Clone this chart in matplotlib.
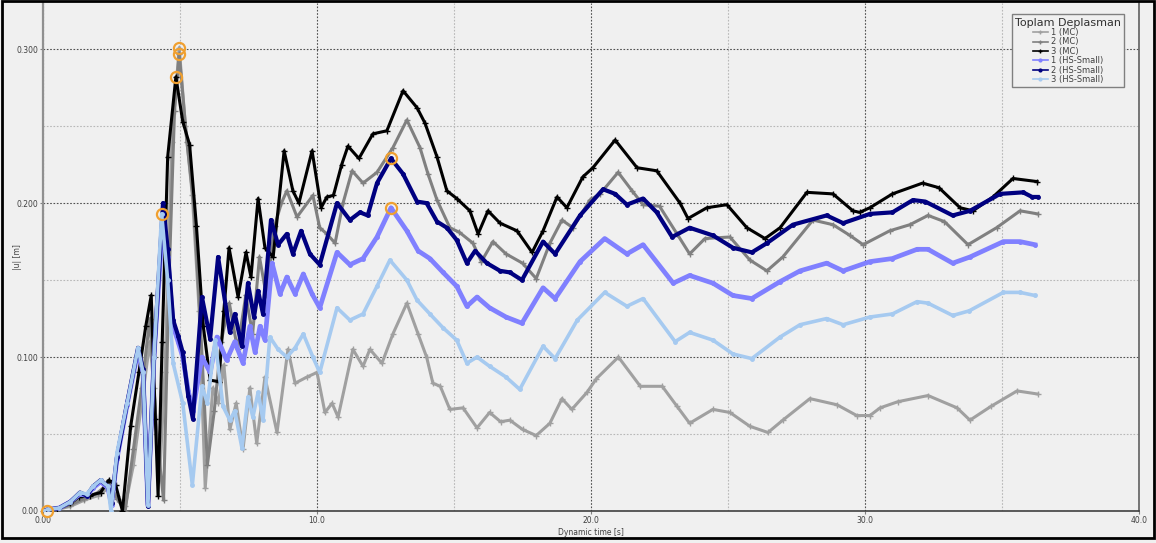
import numpy as np
import matplotlib
matplotlib.use("Agg")
import matplotlib.pyplot as plt
from matplotlib.patches import Rectangle
from matplotlib.ticker import MultipleLocator

# --- zaman serileri (t [s], |u| [m]) ---
t_mc1 = [0, 0.5, 1.0, 1.5, 2.0, 2.4, 2.7, 3.0, 3.3, 3.6, 3.9, 4.05, 4.25, 4.45, 4.7, 4.97,
         5.2, 5.45, 5.7, 5.92, 6.2, 6.4, 6.6, 6.82, 7.05, 7.3, 7.55, 7.8, 8.1, 8.54, 8.94,
         9.2, 9.63, 10.0, 10.29, 10.55, 10.77, 11.31, 11.68, 11.93, 12.37, 12.77, 13.28,
         13.69, 14.0, 14.23, 14.5, 14.85, 15.33, 15.84, 16.3, 16.7, 17.04, 17.5, 18.0, 18.5,
         18.94, 19.3, 19.85, 20.2, 21.0, 21.8, 22.6, 23.14, 23.6, 24.45, 25.07, 25.8, 26.46,
         27.0, 27.99, 28.98, 29.7, 30.18, 30.55, 31.2, 32.3, 33.36, 33.83, 34.6, 35.55, 36.3]
u_mc1 = [0, 0.001, 0.003, 0.007, 0.010, 0.015, 0.010, 0.003, 0.030, 0.070, 0.110, 0.080,
         0.020, 0.090, 0.240, 0.301, 0.250, 0.205, 0.130, 0.015, 0.080, 0.070, 0.095, 0.053,
         0.070, 0.040, 0.080, 0.044, 0.087, 0.051, 0.105, 0.083, 0.087, 0.090, 0.064, 0.070,
         0.061, 0.105, 0.094, 0.105, 0.096, 0.115, 0.135, 0.115, 0.100, 0.083, 0.081, 0.066,
         0.067, 0.054, 0.064, 0.058, 0.059, 0.053, 0.049, 0.057, 0.073, 0.066, 0.077, 0.086,
         0.100, 0.081, 0.081, 0.068, 0.057, 0.066, 0.064, 0.055, 0.051, 0.059, 0.073, 0.069,
         0.062, 0.062, 0.067, 0.071, 0.075, 0.067, 0.059, 0.068, 0.078, 0.076]

t_mc2 = [0, 0.5, 1.0, 1.5, 2.0, 2.4, 2.7, 3.0, 3.3, 3.6, 3.9, 4.15, 4.4, 4.6, 4.8, 4.97,
         5.25, 5.5, 5.75, 6.0, 6.25, 6.5, 6.8, 7.1, 7.4, 7.65, 7.9, 8.15, 8.45, 8.7, 8.9,
         9.27, 9.85, 10.1, 10.36, 10.66, 10.95, 11.28, 11.68, 12.19, 12.77, 13.28, 13.76,
         14.05, 14.38, 14.85, 15.2, 15.69, 16.0, 16.42, 16.9, 17.5, 18.0, 18.5, 18.94, 19.34,
         19.96, 20.33, 20.99, 21.5, 21.9, 22.5, 23.14, 23.6, 24.16, 25.07, 25.8, 26.42, 27.0,
         28.1, 28.83, 29.45, 29.93, 30.9, 31.64, 32.3, 32.9, 33.76, 34.8, 35.66, 36.3]
u_mc2 = [0, 0.001, 0.004, 0.008, 0.012, 0.018, 0.008, 0.000, 0.040, 0.080, 0.125, 0.050,
         0.007, 0.150, 0.260, 0.297, 0.240, 0.200, 0.120, 0.030, 0.065, 0.110, 0.135, 0.105,
         0.140, 0.115, 0.165, 0.140, 0.185, 0.200, 0.208, 0.191, 0.205, 0.184, 0.180, 0.174,
         0.200, 0.221, 0.213, 0.220, 0.236, 0.254, 0.236, 0.219, 0.202, 0.184, 0.181, 0.174,
         0.162, 0.175, 0.167, 0.161, 0.151, 0.174, 0.189, 0.184, 0.202, 0.206, 0.220, 0.208,
         0.199, 0.198, 0.180, 0.167, 0.177, 0.178, 0.163, 0.156, 0.165, 0.189, 0.186, 0.179,
         0.173, 0.182, 0.186, 0.192, 0.188, 0.173, 0.184, 0.195, 0.193]

t_mc3 = [0, 0.5, 1.0, 1.3, 1.7, 2.1, 2.4, 2.65, 2.9, 3.2, 3.5, 3.75, 3.95, 4.1, 4.2, 4.35,
         4.55, 4.85, 5.1, 5.35, 5.6, 5.85, 6.1, 6.42, 6.6, 6.79, 7.12, 7.41, 7.59, 7.85, 8.1,
         8.4, 8.8, 9.12, 9.34, 9.82, 10.15, 10.36, 10.6, 10.9, 11.13, 11.53, 12.04, 12.55,
         13.14, 13.65, 13.94, 14.38, 14.74, 15.1, 15.58, 15.88, 16.24, 16.68, 17.3, 17.85,
         18.25, 18.76, 19.12, 19.7, 20.07, 20.88, 21.68, 22.4, 23.25, 23.54, 24.23, 24.96,
         25.69, 26.35, 26.9, 27.88, 28.83, 29.56, 29.8, 30.18, 31.0, 32.1, 32.7, 33.47,
         33.94, 34.67, 35.4, 36.28]
u_mc3 = [0, 0.001, 0.005, 0.009, 0.010, 0.012, 0.020, 0.017, 0.000, 0.055, 0.090, 0.120,
         0.140, 0.060, 0.010, 0.110, 0.230, 0.282, 0.253, 0.238, 0.185, 0.120, 0.085, 0.084,
         0.130, 0.171, 0.139, 0.168, 0.152, 0.203, 0.171, 0.165, 0.234, 0.208, 0.200, 0.234,
         0.197, 0.204, 0.205, 0.225, 0.237, 0.229, 0.245, 0.247, 0.273, 0.262, 0.252, 0.230,
         0.208, 0.203, 0.195, 0.180, 0.195, 0.187, 0.182, 0.168, 0.182, 0.204, 0.197, 0.217,
         0.223, 0.241, 0.223, 0.221, 0.200, 0.190, 0.197, 0.199, 0.184, 0.177, 0.184, 0.207,
         0.206, 0.195, 0.194, 0.197, 0.206, 0.213, 0.210, 0.197, 0.195, 0.204, 0.216, 0.214]

t_hs1 = [0, 0.2, 0.6, 1.0, 1.35, 1.6, 1.83, 2.1, 2.37, 2.5, 2.7, 3.07, 3.47, 3.65, 3.83,
         4.05, 4.38, 4.55, 4.75, 4.93, 5.1, 5.3, 5.47, 5.8, 6.1, 6.35, 6.7, 7.0, 7.3, 7.55,
         7.74, 7.92, 8.1, 8.36, 8.65, 8.9, 9.2, 9.5, 9.82, 10.1, 10.73, 11.2, 11.68, 12.19,
         12.7, 13.28, 13.69, 14.12, 14.6, 15.1, 15.47, 15.84, 16.3, 16.9, 17.48, 18.25, 18.69,
         19.6, 20.5, 21.31, 21.9, 23.0, 23.6, 24.45, 25.18, 25.87, 26.9, 27.63, 28.6, 29.2,
         30.18, 31.0, 31.9, 32.3, 33.2, 33.83, 35.05, 35.66, 36.2]
u_hs1 = [0, 0.001, 0.002, 0.006, 0.011, 0.010, 0.015, 0.019, 0.015, 0.004, 0.034, 0.069,
         0.104, 0.090, 0.004, 0.100, 0.190, 0.165, 0.120, 0.110, 0.100, 0.078, 0.065, 0.100,
         0.090, 0.113, 0.098, 0.110, 0.096, 0.120, 0.103, 0.120, 0.111, 0.161, 0.141, 0.152,
         0.141, 0.154, 0.141, 0.132, 0.168, 0.160, 0.164, 0.178, 0.197, 0.182, 0.169, 0.164,
         0.155, 0.146, 0.133, 0.139, 0.132, 0.126, 0.122, 0.145, 0.138, 0.162, 0.177, 0.167,
         0.173, 0.148, 0.153, 0.148, 0.140, 0.138, 0.149, 0.156, 0.161, 0.156, 0.162, 0.164,
         0.170, 0.170, 0.161, 0.165, 0.175, 0.175, 0.173]

t_hs2 = [0, 0.2, 0.6, 1.0, 1.35, 1.6, 1.83, 2.1, 2.37, 2.5, 2.7, 3.07, 3.47, 3.65, 3.83,
         4.05, 4.38, 4.55, 4.75, 4.93, 5.1, 5.3, 5.47, 5.8, 6.1, 6.39, 6.82, 7.0, 7.26, 7.48,
         7.7, 7.85, 8.03, 8.32, 8.58, 8.9, 9.12, 9.42, 9.74, 10.1, 10.73, 11.2, 11.57, 11.85,
         12.19, 12.7, 13.14, 13.65, 14.0, 14.38, 14.74, 15.1, 15.47, 15.77, 16.2, 16.68, 17.04,
         17.48, 18.25, 18.69, 19.6, 20.44, 20.88, 21.31, 21.9, 22.4, 22.96, 23.6, 24.45, 25.18,
         25.87, 26.42, 27.37, 28.6, 29.2, 30.18, 31.0, 31.75, 32.2, 33.2, 33.83, 34.93, 35.77,
         36.1, 36.3]
u_hs2 = [0, 0.001, 0.002, 0.006, 0.012, 0.010, 0.016, 0.020, 0.016, 0.005, 0.035, 0.070,
         0.106, 0.092, 0.003, 0.100, 0.200, 0.170, 0.124, 0.114, 0.103, 0.075, 0.060, 0.139,
         0.112, 0.165, 0.116, 0.128, 0.107, 0.148, 0.126, 0.143, 0.128, 0.189, 0.173, 0.180,
         0.167, 0.182, 0.167, 0.160, 0.200, 0.189, 0.194, 0.192, 0.213, 0.229, 0.219, 0.201,
         0.200, 0.188, 0.184, 0.176, 0.161, 0.169, 0.161, 0.156, 0.155, 0.150, 0.175, 0.167,
         0.192, 0.209, 0.206, 0.199, 0.203, 0.194, 0.178, 0.184, 0.179, 0.171, 0.168, 0.174,
         0.186, 0.192, 0.187, 0.193, 0.194, 0.202, 0.201, 0.192, 0.195, 0.206, 0.207, 0.204,
         0.204]

t_hs3 = [0, 0.2, 0.6, 1.0, 1.35, 1.6, 1.83, 2.1, 2.37, 2.48, 2.7, 3.07, 3.47, 3.65, 3.83,
         4.05, 4.33, 4.55, 4.75, 5.1, 5.45, 5.8, 6.0, 6.28, 6.57, 6.82, 7.0, 7.26, 7.48, 7.66,
         7.85, 8.03, 8.28, 8.58, 8.9, 9.2, 9.5, 9.85, 10.1, 10.73, 11.2, 11.68, 12.19, 12.66,
         13.28, 13.65, 14.12, 14.6, 15.1, 15.47, 15.84, 16.3, 16.9, 17.4, 18.25, 18.69, 19.5,
         20.5, 21.31, 21.9, 23.07, 23.6, 24.45, 25.18, 25.87, 26.9, 27.63, 28.6, 29.2, 30.18,
         31.0, 31.9, 32.3, 33.2, 33.8, 35.05, 35.66, 36.2]
u_hs3 = [0, 0.001, 0.002, 0.006, 0.012, 0.011, 0.016, 0.020, 0.016, 0.000, 0.038, 0.070,
         0.106, 0.090, 0.004, 0.100, 0.193, 0.150, 0.096, 0.070, 0.017, 0.081, 0.070, 0.111,
         0.068, 0.059, 0.065, 0.041, 0.074, 0.061, 0.077, 0.059, 0.113, 0.105, 0.100, 0.106,
         0.115, 0.100, 0.090, 0.132, 0.124, 0.128, 0.146, 0.163, 0.150, 0.137, 0.128, 0.119,
         0.111, 0.096, 0.100, 0.094, 0.087, 0.079, 0.107, 0.099, 0.124, 0.142, 0.133, 0.138,
         0.110, 0.116, 0.111, 0.102, 0.099, 0.113, 0.121, 0.125, 0.121, 0.126, 0.128, 0.136,
         0.135, 0.127, 0.130, 0.142, 0.142, 0.140]

labels = ["1 (MC)", "2 (MC)", "3 (MC)", "1 (HS-Small)", "2 (HS-Small)", "3 (HS-Small)"]
times = [t_mc1, t_mc2, t_mc3, t_hs1, t_hs2, t_hs3]
values = [u_mc1, u_mc2, u_mc3, u_hs1, u_hs2, u_hs3]

colors = ["#a0a0a0", "#808080", "#000000", "#8080ff", "#000080", "#a6caf0"]
markers = ["+", "+", "+", "o", "o", "o"]
widths = [2.2, 2.2, 2.2, 3.4, 3.0, 2.6]
msizes = [4, 4, 4, 2.5, 2.5, 2.5]

bg = "#f0f0f0"
fig = plt.figure(figsize=(11.56, 5.43), dpi=100, facecolor=bg)
ax = fig.add_axes([43 / 1156, 32 / 543, (1139 - 43) / 1156, (540 - 32) / 543])
ax.set_facecolor(bg)

for t, u, lab, c, m, lw, ms in zip(times, values, labels, colors, markers, widths, msizes):
    ax.plot(t, u, color=c, lw=lw, marker=m, ms=ms, mew=1.0, label=lab,
            solid_joinstyle="round", zorder=3)

# en büyük değerleri turuncu halka ile işaretle
for t, u in zip(times, values):
    i = int(np.argmax(u))
    ax.plot(t[i], u[i], "o", ms=8, mfc="none", mec="#f0a030", mew=1.6, zorder=5)
ax.plot(t_hs3[0] + 0.15, u_hs3[0], "o", ms=8, mfc="none", mec="#f0a030", mew=1.6,
        zorder=5, clip_on=False)

ax.set_xlim(0, 40)
ax.set_ylim(0, 0.33)
ax.xaxis.set_major_locator(MultipleLocator(10))
ax.xaxis.set_minor_locator(MultipleLocator(5))
ax.yaxis.set_major_locator(MultipleLocator(0.1))
ax.yaxis.set_minor_locator(MultipleLocator(0.05))
ax.set_xticks([0, 10, 20, 30, 40], ["0.00", "10.0", "20.0", "30.0", "40.0"])
ax.set_yticks([0, 0.1, 0.2, 0.3], ["0.00", "0.100", "0.200", "0.300"])
ax.tick_params(which="both", length=2, width=0.8, colors="#808080",
               labelsize=5.5, labelcolor="#404040", pad=1.5)
ax.tick_params(which="minor", length=0)

ax.grid(which="major", color="#505050", ls=(0, (1.5, 1.5)), lw=0.8, zorder=1)
ax.grid(which="minor", color="#b8b8b8", ls=(0, (1.5, 1.5)), lw=0.8, zorder=1)

ax.spines["top"].set_visible(False)
ax.spines["left"].set_color("#909090")
ax.spines["left"].set_linewidth(1.6)
ax.spines["bottom"].set_color("#404040")
ax.spines["bottom"].set_linewidth(1.2)
ax.spines["right"].set_color("#606060")
ax.spines["right"].set_linewidth(1.2)

ax.set_xlabel("Dynamic time [s]", fontsize=5.5, color="#404040")
ax.xaxis.set_label_coords(0.5, -0.034)
ax.set_ylabel("|u| [m]", fontsize=5.5, color="#404040")
ax.yaxis.set_label_coords(-0.019, 0.5)

leg = ax.legend(loc="upper left", bbox_to_anchor=(0.880, 0.986), fontsize=6,
                title="Toplam Deplasman", title_fontsize=8, frameon=True,
                fancybox=False, edgecolor="#808080", facecolor=bg, framealpha=1,
                handlelength=1.8, handletextpad=0.4, labelspacing=0.05,
                borderpad=0.4, markerscale=0.8)
leg.get_frame().set_linewidth(1.0)
for txt in leg.get_texts():
    txt.set_color("#404040")
leg.get_title().set_color("#303030")
for h in leg.legend_handles:
    h.set_linewidth(1.2)

# dış çerçeve
fig.patches.append(Rectangle((0.002, 0.01), 0.996, 0.988, transform=fig.transFigure,
                             fill=False, edgecolor="#000000", lw=2.0))

fig.savefig("out.png", dpi=100, facecolor=bg)
